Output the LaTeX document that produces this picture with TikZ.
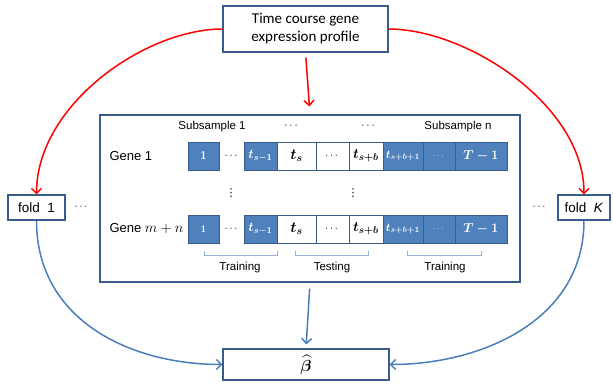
\RequirePackage{fix-cm}
\documentclass[tikz,border=0pt]{standalone}
\usepackage{amsmath,bm}
\usepackage{fontspec}
\setmainfont{Liberation Sans}
\newfontfamily\calfont{Carlito}
\newfontfamily\symfont{DejaVu Sans}
\usetikzlibrary{arrows.meta}

\definecolor{cellblue}{HTML}{4F81BD}
\definecolor{edgeblue}{HTML}{385D8A}
\definecolor{flowblue}{HTML}{4A7EBB}
\definecolor{bracketblue}{HTML}{95B3D7}
\definecolor{flowred}{HTML}{FF0000}

\tikzset{
  box/.style={draw=edgeblue, line width=1.1pt, fill=white, inner sep=0pt},
  cellbase/.style={draw=edgeblue, line width=0.8pt, minimum height=28pt, inner sep=0pt},
  bluecell/.style={cellbase, fill=cellblue, text=white},
  whitecell/.style={cellbase, fill=white, text=black},
  redflow/.style={draw=flowred, line width=1.5pt, -{Straight Barb[length=5pt,width=10pt,line width=1.5pt]}},
  blueflow/.style={draw=flowblue, line width=1.5pt, -{Straight Barb[length=5pt,width=10pt,line width=1.5pt]}},
  bracketline/.style={draw=bracketblue, line width=0.8pt},
  small/.style={font=\fontsize{11.5}{13}\selectfont},
  genelabel/.style={font=\fontsize{13}{15}\selectfont, anchor=west},
  vdotlabel/.style={font=\symfont\fontsize{11}{12}\selectfont, inner sep=0pt},
}

\begin{document}
\begin{tikzpicture}[x=1pt, y=-1pt]
\useasboundingbox (0,0) rectangle (613,386);

% source and result boxes
\node[box, minimum width=165pt, minimum height=46pt, align=center,
      font=\calfont\fontsize{15}{18}\selectfont] (src) at (305.5,29)
      {Time course gene\\expression profile};
\node[box, minimum width=166pt, minimum height=31pt] (beta) at (306,364.5)
      {\fontsize{16}{18}\selectfont$\widehat{\bm{\beta}}$};

% subsampling frame
\node[box, minimum width=420pt, minimum height=167pt] (main) at (310,198.5) {};

% folds
\node[box, minimum width=57pt, minimum height=25pt, font=\fontsize{13.5}{15}\selectfont]
      (fold1) at (36.5,207.5) {fold~~1};
\node[box, minimum width=52pt, minimum height=25pt, font=\fontsize{13.5}{15}\selectfont]
      (foldK) at (584,207.5) {fold~~\textit{K}};
\node[font=\fontsize{11}{13}\selectfont] (dl) at (82,207) {$\cdots$};
\node[font=\fontsize{11}{13}\selectfont] (dr) at (540,207) {$\cdots$};

% column headers
\node[small] (sub1) at (212,127) {Subsample 1};
\node[small] (h1) at (292,126) {$\cdots$};
\node[small] (h2) at (369,126) {$\cdots$};
\node[small] (subn) at (458,127) {Subsample n};

% gene rows
\node[genelabel] (g1) at (106,156) {Gene 1};
\node[genelabel] (g2) at (106,229) {Gene {\fontsize{14.5}{15}\selectfont$m+n$}};

\foreach \r/\y/\one in {a/156/12, b/229/10}{
  \node[bluecell, minimum width=31pt] (\r1) at (203.5,\y)
       {\fontsize{\one}{12}\selectfont$\bm{1}$};
  \node[font=\fontsize{11}{13}\selectfont] (\r d) at (232,\y) {$\cdots$};
  \node[bluecell, minimum width=33pt] (\r2) at (260.5,\y)
       {\fontsize{13}{15}\selectfont$\bm{t_{s-1}}$};
  \node[whitecell, minimum width=39pt] (\r3) at (296.5,\y)
       {\fontsize{15}{17}\selectfont$\bm{t_s}$};
  \node[whitecell, minimum width=33pt] (\r4) at (332.5,\y)
       {\fontsize{11}{13}\selectfont$\cdots$};
  \node[whitecell, minimum width=34pt] (\r5) at (366,\y)
       {\fontsize{14}{16}\selectfont$\bm{t_{s+b}}$};
  \node[bluecell, minimum width=40pt] (\r6) at (403,\y)
       {\fontsize{11.5}{14}\selectfont$\bm{t_{s+b+1}}$};
  \node[bluecell, minimum width=32pt] (\r7) at (439,\y)
       {\fontsize{9}{11}\selectfont$\cdots$};
  \node[bluecell, minimum width=52pt] (\r8) at (481,\y)
       {\fontsize{13}{15}\selectfont$\bm{T-1}$};
}

% vertical ellipses between rows
\node[vdotlabel] (v1) at (231,193) {⋮};
\node[vdotlabel] (v2) at (353,193) {⋮};

% training / testing brackets
\draw[bracketline] (204,250.5) -- (204,255) -- (277,255) -- (277,250.5);
\draw[bracketline] (295,250.5) -- (295,255) -- (368,255) -- (368,250.5);
\draw[bracketline] (407,250.5) -- (407,255) -- (481,255) -- (481,250.5);
\node[small] (tr1) at (240,268) {Training};
\node[small] (te)  at (332,268) {Testing};
\node[small] (tr2) at (445,268) {Training};

% red flows from the profile
\draw[redflow] (src.west) .. controls (145,29) and (36.5,105) .. (fold1.north);
\draw[redflow] (src.east) .. controls (467,29) and (584,105) .. (foldK.north);
\draw[redflow, shorten <=5pt, shorten >=8pt] (src.south) -- (main.north);

% blue flows to the estimate
\draw[blueflow] (fold1.south) .. controls (36.5,320) and (130,364.5) .. (beta.west);
\draw[blueflow] (foldK.south) .. controls (584,320) and (482,364.5) .. (beta.east);
\draw[blueflow, shorten <=6pt, shorten >=4pt] (main.south) -- (beta.north);
\end{tikzpicture}
\end{document}
